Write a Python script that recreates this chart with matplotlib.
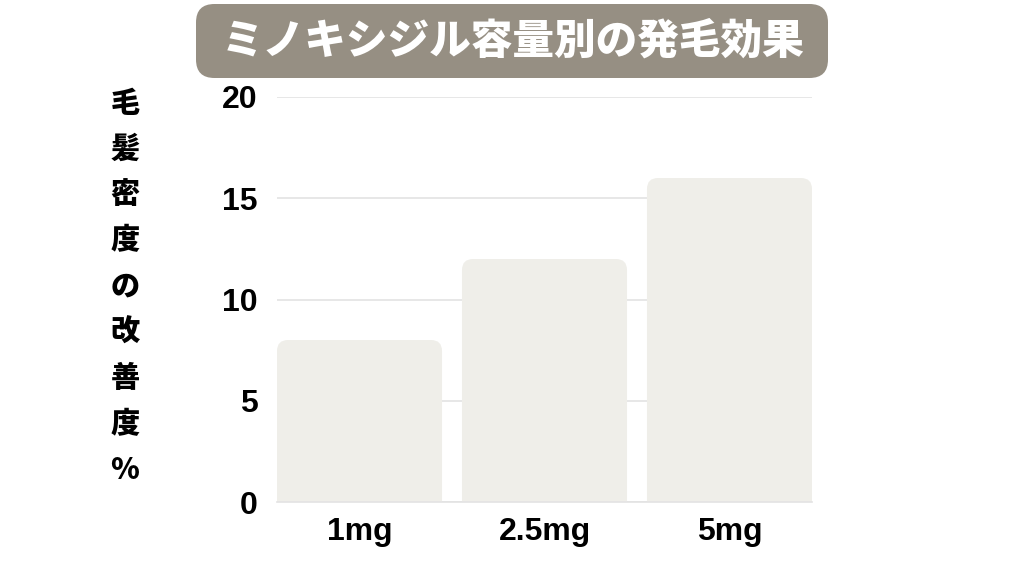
#!/usr/bin/env python3
"""ミノキシジル容量別の発毛効果 — rounded bar chart."""

import matplotlib
matplotlib.use("Agg")
import matplotlib.pyplot as plt
from matplotlib.patches import FancyBboxPatch

plt.rcParams["font.family"] = ["Noto Sans CJK JP", "DejaVu Sans"]

# --- data ---
doses = ["1mg", "2.5mg", "5mg"]
improvement = [8, 12, 16]
y_ticks = [0, 5, 10, 15, 20]
title = "ミノキシジル容量別の発毛効果"
ylabel = "毛髪密度の改善度%"

BAR_COLOR = "#efeee9"
GRID_COLOR = "#e3e3e3"
TITLE_BG = "#968f83"
W, H = 1024, 576


def main() -> None:
    fig = plt.figure(figsize=(W / 100, H / 100), dpi=100)
    ax = fig.add_axes([277 / W, 1 - 502 / H, (812 - 277) / W, (502 - 97) / H])

    width = 0.892
    x = list(range(len(doses)))
    ax.set_xlim(-width / 2, len(doses) - 1 + width / 2)
    ax.set_ylim(0, 20)

    # bars via ax.bar, then swap each rectangle for a top-rounded patch
    bars = ax.bar(x, improvement, width=width, color=BAR_COLOR, zorder=2)
    x_px = (812 - 277) / (ax.get_xlim()[1] - ax.get_xlim()[0])
    y_px = (502 - 97) / 20
    r_px = 11
    for b in bars:
        b.set_visible(False)
        r = r_px / x_px
        patch = FancyBboxPatch(
            (b.get_x(), -2), b.get_width(), b.get_height() + 2,
            boxstyle=f"round,pad=0,rounding_size={r}",
            mutation_aspect=x_px / y_px,
            facecolor=BAR_COLOR, edgecolor="none", zorder=2,
        )
        ax.add_patch(patch)

    ax.set_yticks(y_ticks)
    ax.set_xticks(x)
    ax.set_xticklabels(doses)
    ax.grid(axis="y", color=GRID_COLOR, linewidth=1.2, zorder=0)
    ax.set_axisbelow(True)
    for s in ["top", "right", "left"]:
        ax.spines[s].set_visible(False)
    ax.spines["bottom"].set_color(GRID_COLOR)
    ax.spines["bottom"].set_linewidth(1.2)
    ax.tick_params(length=0)
    ax.tick_params(axis="y", pad=14)
    ax.tick_params(axis="x", pad=11)
    for lab in ax.get_xticklabels() + ax.get_yticklabels():
        lab.set_fontsize(23)
        lab.set_fontweight("bold")
        lab.set_family(["Liberation Sans", "DejaVu Sans"])

    # title box
    fig.patches.append(FancyBboxPatch(
        (196 / W, 1 - 78 / H), (828 - 196) / W, (78 - 4) / H,
        boxstyle="round,pad=0,rounding_size=0.018",
        mutation_aspect=W / H,
        transform=fig.transFigure, facecolor=TITLE_BG, edgecolor="none",
    ))
    fig.text(513 / W, 1 - 42 / H, title, ha="center", va="center",
             fontsize=30, fontweight="black", color="white")

    # vertical y label, one character per line
    n = len(ylabel)
    for i, ch in enumerate(ylabel):
        yc = 103 + i * (470 - 103) / (n - 1)
        fig.text(125 / W, 1 - yc / H, ch, ha="center", va="center",
                 fontsize=21, fontweight="black", color="black")

    fig.savefig("out.png", dpi=100)


if __name__ == "__main__":
    main()
